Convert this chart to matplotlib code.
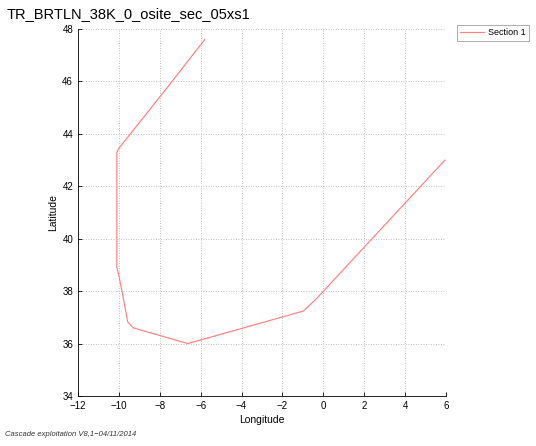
import matplotlib
matplotlib.use("Agg")
import matplotlib.pyplot as plt

# Section 1 track (longitude, latitude)
lon = [-5.8, -7.45, -7.6, -10.0, -10.1, -10.1, -10.1, -10.0, -9.8, -9.57, -9.3,
       -6.63, -0.98, -0.7, -0.4, 5.95]
lat = [47.6, 45.95, 45.8, 43.45, 43.3, 41.0, 38.9, 38.6, 37.8, 36.83, 36.6,
       36.0, 37.24, 37.45, 37.66, 43.0]

series_label = "Section 1"
title = "TR_BRTLN_38K_0_osite_sec_05xs1"
footer = "Cascade exploitation V8,1\u221204/11/2014"
xticks = list(range(-12, 7, 2))
yticks = list(range(34, 49, 2))

plt.rcParams['font.family'] = ['Liberation Sans', 'DejaVu Sans']
fig = plt.figure(figsize=(5.36, 4.46), dpi=100)
ax = fig.add_axes([78 / 536, 1 - 396 / 446, 368 / 536, 367 / 446])

ax.plot(lon, lat, color=(1.0, 0.5, 0.5), lw=0.85, label=series_label)
ax.set_xlim(-12, 6)
ax.set_ylim(34, 48)
ax.set_xticks(xticks)
ax.set_yticks(yticks)
ax.set_xticklabels([str(t).replace('-', '\u2212') for t in xticks])
ax.tick_params(labelsize=7, direction='in', length=3, width=0.6, top=False, right=False)
ax.grid(True, color='#b0b0b0', linestyle=(0, (1, 2)), linewidth=0.6)
for s in ax.spines.values():
    s.set_linewidth(0.6)
ax.spines['top'].set_visible(False)
ax.spines['right'].set_visible(False)
ax.set_xlabel("Longitude", fontsize=7.5, labelpad=3)
ax.set_ylabel("Latitude", fontsize=7.5, labelpad=3)

fig.text(7 / 536, 1 - 14 / 446, title, fontsize=10.5, va='center', ha='left')
fig.text(5 / 536, 1 - 435 / 446, footer, fontsize=5.5, style='italic', va='center', ha='left',
         color='#333333')

leg = ax.legend(loc='upper left', bbox_to_anchor=((457 - 78) / 368, 1.01), fontsize=6.5,
                frameon=True, fancybox=False, edgecolor='#888888', borderaxespad=0,
                handlelength=2.6, handletextpad=0.5, borderpad=0.35)
leg.get_frame().set_linewidth(0.6)

fig.savefig("out.png", dpi=100)
